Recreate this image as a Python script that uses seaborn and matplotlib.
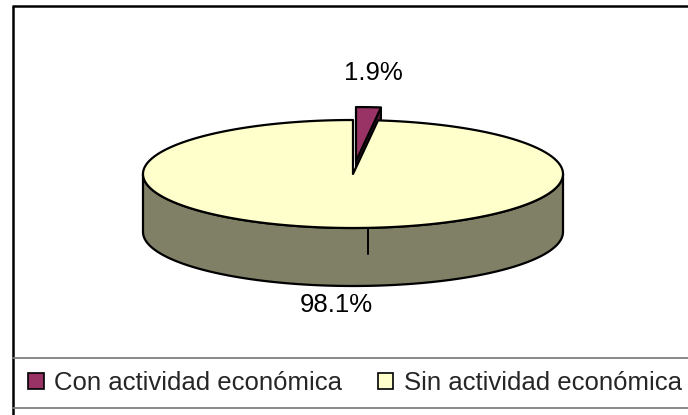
import numpy as np
import matplotlib
matplotlib.use("Agg")
import matplotlib.pyplot as plt
from matplotlib.patches import Polygon, Patch
import seaborn as sns

# data
categories = ["Con actividad económica", "Sin actividad económica"]
shares = [1.9, 98.1]
pct_labels = ["1.9%", "98.1%"]
exploded = [True, False]

# look
TOP_COLORS = ["#993366", "#FFFFCC"]
SIDE_COLORS = ["#4D1A33", "#808066"]
EDGE = "black"
FS = 18.5

# 3D pie layout (pixel-like data units, y pointing down)
W, H = 688, 415
CX, CY = 353, 174
RX, RY = 210, 54
DEPTH = 58
EXPLODE = 0.24
LABEL_R = 1.35
LABEL_LIFT = 15
SEAM_ANGLE = 274.0

sns.set_theme(style="white")
plt.rcParams["font.family"] = ["Liberation Sans", "DejaVu Sans"]


def ellipse_pts(a0, a1, n=120, dx=0.0, dy=0.0):
    th = np.radians(np.linspace(a0, a1, n))
    return np.column_stack([CX + dx + RX * np.cos(th), CY + dy - RY * np.sin(th)])


fig = plt.figure(figsize=(W / 100, H / 100), dpi=100)
fig.patch.set_facecolor("white")
ax = fig.add_axes([0, 0, 1, 1])
ax.set_xlim(0, W)
ax.set_ylim(H, 0)
ax.axis("off")

# slice angles: start at 12 o'clock, run clockwise
fracs = np.array(shares) / sum(shares)
ends = 90 - 360 * np.cumsum(fracs)
starts = np.concatenate([[90], ends[:-1]])

for i in range(len(shares)):
    a0, a1 = starts[i], ends[i]
    mid = np.radians((a0 + a1) / 2)
    e = EXPLODE if exploded[i] else 0.0
    dx, dy = e * RX * np.cos(mid), -e * RY * np.sin(mid)
    tip = np.array([CX + dx, CY + dy])

    # front part of the outer wall
    for lo_w, hi_w in [(-180, 0), (180, 360), (-540, -360)]:
        lo, hi = max(a1, lo_w), min(a0, hi_w)
        if hi > lo:
            top = ellipse_pts(hi, lo, dx=dx, dy=dy)
            bot = top[::-1] + [0, DEPTH]
            ax.add_patch(Polygon(np.vstack([top, bot]), closed=True,
                                 fc=SIDE_COLORS[i], ec=EDGE, lw=1.6, zorder=2 + i * 3))

    # radial cut faces
    for ang, visible in [(a1, np.cos(np.radians(a1)) > 1e-6),
                         (a0, np.cos(np.radians(a0)) < -1e-6)]:
        if visible and exploded[i]:
            outer = ellipse_pts(ang, ang, n=1, dx=dx, dy=dy)[0]
            face = np.array([tip, outer, outer + [0, DEPTH], tip + [0, DEPTH]])
            ax.add_patch(Polygon(face, closed=True, fc=SIDE_COLORS[i], ec=EDGE,
                                 lw=1.4, zorder=1 + i * 3))

    # top face
    top_face = np.vstack([tip, ellipse_pts(a0, a1, n=max(4, int(abs(a0 - a1) * 2)), dx=dx, dy=dy)])
    ax.add_patch(Polygon(top_face, closed=True, fc=TOP_COLORS[i], ec=EDGE,
                         lw=1.6, joinstyle="round", zorder=3 + i * 3))

    # percentage label
    lx = CX + dx + LABEL_R * RX * np.cos(mid)
    ly = CY + dy - LABEL_R * RY * np.sin(mid)
    ly += DEPTH if np.sin(mid) < 0 else -LABEL_LIFT
    ax.text(lx, ly, pct_labels[i], ha="center", va="center", fontsize=FS,
            color="black", zorder=20)

# seam on the side wall
seam = ellipse_pts(SEAM_ANGLE, SEAM_ANGLE, n=1)[0]
ax.plot([seam[0], seam[0]], [seam[1], seam[1] + DEPTH * 0.45], color=EDGE, lw=1.4, zorder=12)

# chart frame and legend box rules
ax.plot([12.5, 12.5], [6, H], color="black", lw=1.8, zorder=15, solid_capstyle="butt")
ax.plot([12, W], [6, 6], color="black", lw=1.8, zorder=15, solid_capstyle="butt")
ax.plot([13, W], [358, 358], color="#808080", lw=1.3, zorder=15)
ax.plot([13, W], [408, 408], color="#808080", lw=1.3, zorder=15)

handles = [Patch(facecolor=c, edgecolor="black", linewidth=1.2) for c in TOP_COLORS]
fig.legend(handles, categories, loc="center", bbox_to_anchor=(355 / W, 1 - 383 / H),
           ncol=2, frameon=False, fontsize=FS, handlelength=0.6, handleheight=0.6,
           handletextpad=0.4, columnspacing=1.4, borderpad=0, borderaxespad=0)

fig.savefig("out.png", dpi=100, facecolor="white")
